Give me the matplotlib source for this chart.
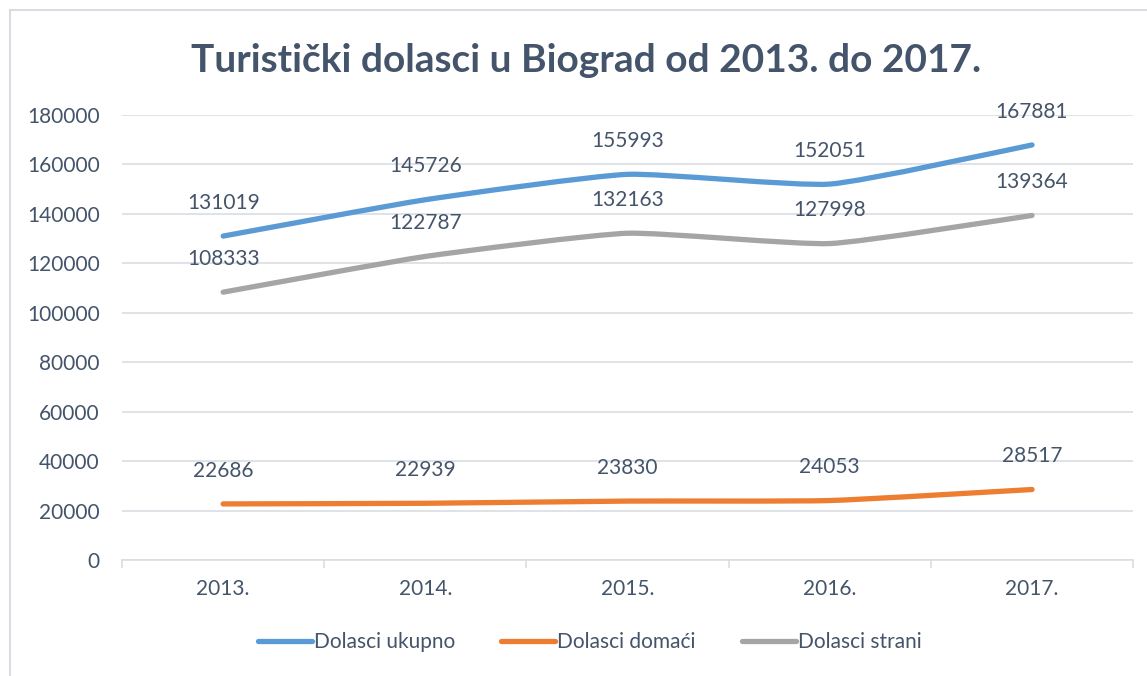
import matplotlib.pyplot as plt
from matplotlib.path import Path
from matplotlib.patches import PathPatch, Rectangle
from matplotlib.lines import Line2D

plt.rcParams['font.family'] = ['Lato', 'DejaVu Sans']

godine = ['2013.', '2014.', '2015.', '2016.', '2017.']
ukupno = [131019, 145726, 155993, 152051, 167881]
domaci = [22686, 22939, 23830, 24053, 28517]
strani = [108333, 122787, 132163, 127998, 139364]

serije = [
    ('Dolasci ukupno', ukupno, '#5B9BD5'),
    ('Dolasci domaći', domaci, '#ED7D31'),
    ('Dolasci strani', strani, '#A5A5A5'),
]

tekst = '#44546A'
mreza = '#D9DDE3'


def glatka_putanja(xs, ys, k=12):
    # blago zaobljena linija (Bezier segmenti kroz tocke)
    pts = list(zip(xs, ys))
    verts = [pts[0]]
    codes = [Path.MOVETO]
    n = len(pts)
    for i in range(n - 1):
        p0 = pts[i - 1] if i > 0 else pts[i]
        p1 = pts[i]
        p2 = pts[i + 1]
        p3 = pts[i + 2] if i + 2 < n else pts[i + 1]
        c1 = (p1[0] + (p2[0] - p0[0]) / k, p1[1] + (p2[1] - p0[1]) / k)
        c2 = (p2[0] - (p3[0] - p1[0]) / k, p2[1] - (p3[1] - p1[1]) / k)
        verts += [c1, c2, p2]
        codes += [Path.CURVE4] * 3
    return Path(verts, codes)


fig = plt.figure(figsize=(11.47, 6.76), dpi=100)
ax = fig.add_axes([0.1064, 0.1716, 0.8815, 0.6583])

fig.patches.append(Rectangle((10 / 1147, -0.1), 1.2, 1.1 - 10 / 676,
                             transform=fig.transFigure, fill=False,
                             edgecolor='#D9DDE3', linewidth=1.5))

x = list(range(len(godine)))
handles = []
for naziv, vrijednosti, boja in serije:
    patch = PathPatch(glatka_putanja(x, vrijednosti), facecolor='none',
                      edgecolor=boja, linewidth=3.8, capstyle='round',
                      joinstyle='round', zorder=3)
    ax.add_patch(patch)
    handles.append(Line2D([0], [0], color=boja, linewidth=3.8,
                          solid_capstyle='round', label=naziv))
    for xi, v in zip(x, vrijednosti):
        ax.annotate(str(v), (xi, v), xytext=(0, 24), textcoords='offset points',
                    ha='center', va='center', fontsize=15, color=tekst)

ax.set_xlim(-0.5, len(godine) - 0.5)
ax.set_ylim(0, 180000)
ax.set_yticks(range(0, 180001, 20000))
ax.set_xticks(x)
ax.set_xticklabels(godine)
ax.set_xticks([i - 0.5 for i in range(len(godine) + 1)], minor=True)

ax.grid(axis='y', color=mreza, linewidth=1.2)
ax.set_axisbelow(True)
for s in ['top', 'right', 'left']:
    ax.spines[s].set_visible(False)
ax.spines['bottom'].set_color(mreza)
ax.spines['bottom'].set_linewidth(1.2)

ax.tick_params(axis='y', length=0, pad=16, labelsize=15, labelcolor=tekst)
ax.tick_params(axis='x', which='major', length=0, pad=14, labelsize=15, labelcolor=tekst)
ax.tick_params(axis='x', which='minor', length=6, width=1.2, color=mreza)

fig.text(0.511, 0.911, 'Turistički dolasci u Biograd od 2013. do 2017.',
         ha='center', va='center', fontsize=28, fontweight='bold', color=tekst)

fig.legend(handles=handles, loc='center', bbox_to_anchor=(0.514, 0.05), ncol=3,
           frameon=False, fontsize=15, handlelength=2.6, handletextpad=0.1,
           columnspacing=2.2, labelcolor=tekst)

fig.savefig('out.png', dpi=100)
